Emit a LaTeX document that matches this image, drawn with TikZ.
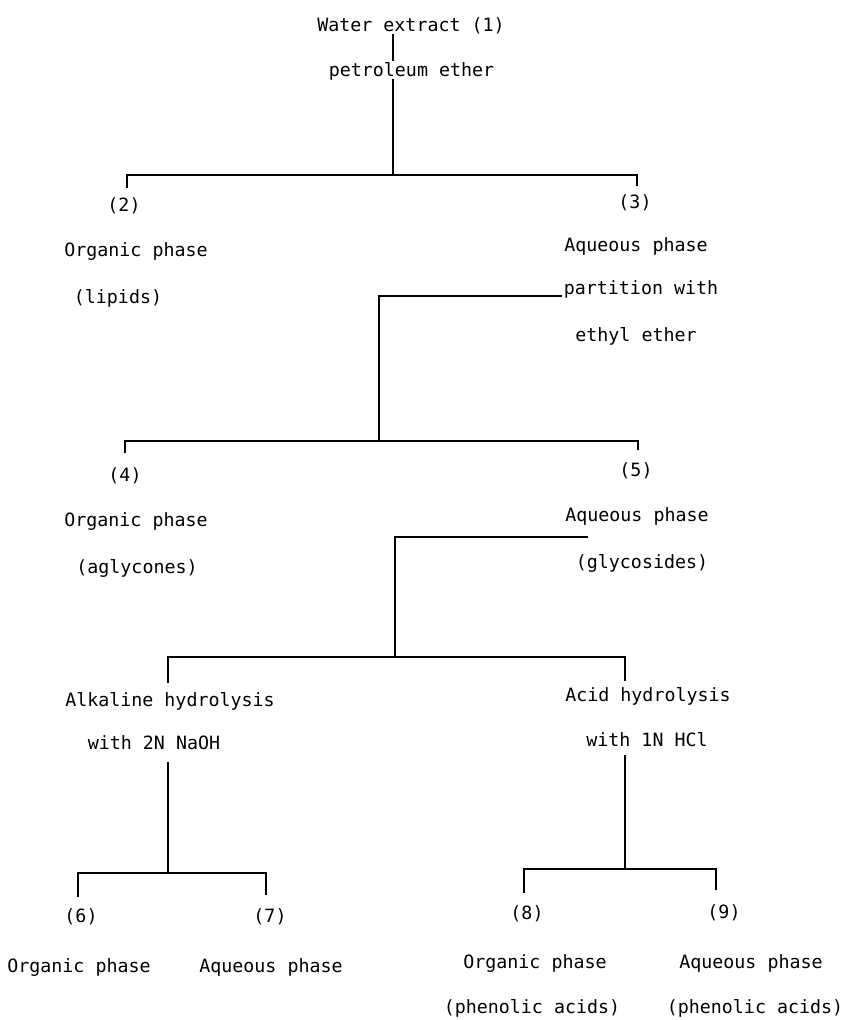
\documentclass[tikz,border=0pt]{standalone}
\usepackage{fontspec}
\newfontfamily\flowfont{DejaVu Sans Mono}
\usepackage{tikz}

\begin{document}
\begin{tikzpicture}[x=1pt, y=-1pt,
    lbl/.style={font=\flowfont\fontsize{18.3}{20}\selectfont, inner sep=2pt, text height=13pt, text depth=0pt},
    bar/.style={black, line width=2.2pt}]
  \useasboundingbox (0,0) rectangle (847,1020);
  \node[lbl] (w) at (411,25) {Water extract (1)};
  \node[lbl] (pe) at (411.5,70) {petroleum ether};
  \node[lbl] (n2) at (124,205) {(2)};
  \node[lbl] (o2) at (136,250) {Organic phase};
  \node[lbl] (l2) at (118,297) {(lipids)};
  \node[lbl] (n3) at (635,202) {(3)};
  \node[lbl] (a3) at (636,245) {Aqueous phase};
  \node[lbl] (pw) at (641,288) {partition with};
  \node[lbl] (ee) at (636,335) {ethyl ether};
  \node[lbl] (n4) at (125,475) {(4)};
  \node[lbl] (o4) at (136,520) {Organic phase};
  \node[lbl] (ag4) at (137,567) {(aglycones)};
  \node[lbl] (n5) at (636,470) {(5)};
  \node[lbl] (a5) at (637,515) {Aqueous phase};
  \node[lbl] (g5) at (642,562) {(glycosides)};
  \node[lbl] (ak) at (170,700) {Alkaline hydrolysis};
  \node[lbl] (na) at (154,743) {with 2N NaOH};
  \node[lbl] (ac) at (648,695) {Acid hydrolysis};
  \node[lbl] (hc) at (647,740) {with 1N HCl};
  \node[lbl] (n6) at (81,916) {(6)};
  \node[lbl] (o6) at (79,966) {Organic phase};
  \node[lbl] (n7) at (270,916) {(7)};
  \node[lbl] (a7) at (271,966) {Aqueous phase};
  \node[lbl] (n8) at (527,913) {(8)};
  \node[lbl] (o8) at (535,962) {Organic phase};
  \node[lbl] (p8) at (532,1007) {(phenolic acids)};
  \node[lbl] (n9) at (724,912) {(9)};
  \node[lbl] (a9) at (751,962) {Aqueous phase};
  \node[lbl] (p9) at (755,1007) {(phenolic acids)};
  \coordinate (j1) at (393,175);
  \coordinate (c2) at (127,188);
  \coordinate (c3) at (637,186);
  \coordinate (j2) at (379,441);
  \coordinate (c4) at (125,453);
  \coordinate (c5) at (638,450);
  \coordinate (g0) at (588,537);
  \coordinate (j3) at (395,657);
  \coordinate (c6) at (168,683);
  \coordinate (c7) at (625,681);
  \coordinate (j4) at (168,873);
  \coordinate (c8) at (78,897);
  \coordinate (c9) at (266,895);
  \coordinate (j5) at (625,869);
  \coordinate (c10) at (524,893);
  \coordinate (c11) at (716,890);
  \draw[bar] (w.south -| j1) -- (pe.north -| j1);
  \draw[bar] (pe.south -| j1) -- (j1);
  \draw[bar] (c2) |- (j1) -| (c3);
  \draw[bar] ([yshift=-1.5pt]pw.base west) -| (j2);
  \draw[bar] (c4) |- (j2) -| (c5);
  \draw[bar] (g0) -| (j3);
  \draw[bar] (c6) |- (j3) -| (c7);
  \draw[bar, shorten <=10pt] (na.south -| j4) -- (j4);
  \draw[bar] (c8) |- (j4) -| (c9);
  \draw[bar, shorten <=6pt] (hc.south -| j5) -- (j5);
  \draw[bar] (c10) |- (j5) -| (c11);
\end{tikzpicture}
\end{document}
